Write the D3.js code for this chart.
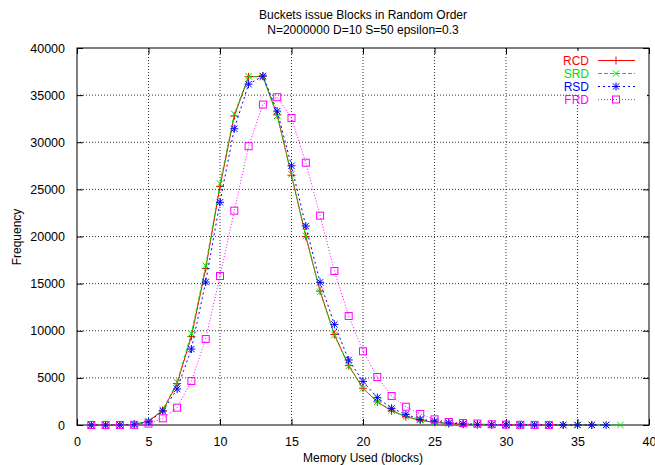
<!DOCTYPE html>
<html>
<head>
<meta charset="utf-8">
<script src="https://cdn.jsdelivr.net/npm/d3@7"></script>
<style>
  body { margin: 0; background: #fff; }
  text { font-family: "Liberation Sans", Arial, Helvetica, sans-serif; }
</style>
</head>
<body>
<svg width="655" height="465"></svg>
<script>
const seriesNames = ['RCD', 'SRD', 'RSD', 'FRD'];

const rcd = [0, 0, 10, 60, 400, 1550, 4400, 9400, 16600, 25300, 32800, 36950, 37000, 32900, 26500,
  20000, 14200, 9600, 6300, 3900, 2450, 1500, 880, 500, 280, 150, 80, 45, 25, 12, 6, 3, 2, 1, 1, 0];
const srd = [0, 0, 10, 70, 420, 1600, 4530, 9700, 16900, 25600, 33000, 37000, 36900, 32800, 26600,
  20050, 14140, 9550, 6260, 3890, 2470, 1520, 900, 520, 290, 160, 85, 45, 25, 13, 7, 4, 2, 1, 1, 1, 0, 0];
const rsd = [0, 0, 8, 50, 330, 1480, 3820, 8060, 15170, 23630, 31430, 36160, 37030, 33300, 27500,
  21110, 15140, 10680, 6900, 4630, 2900, 1770, 1130, 600, 420, 220, 120, 65, 35, 18, 9, 5, 3, 2, 1, 0, 0];
const frd = [0, 0, 3, 20, 150, 710, 1840, 4670, 9120, 15810, 22740, 29580, 34000, 34780, 32570,
  27830, 22210, 16340, 11570, 7820, 5090, 3080, 1940, 1170, 600, 320, 210, 150, 80, 40, 20, 10, 5];

const xTicks = [0, 5, 10, 15, 20, 25, 30, 35, 40];
const yTicks = [0, 5000, 10000, 15000, 20000, 25000, 30000, 35000, 40000];

const margin = {top: 48, right: 6, bottom: 40, left: 77};
const width = 655 - margin.left - margin.right;
const height = 465 - margin.top - margin.bottom;

const svg = d3.select('svg');
const chart = svg.append('g')
  .attr('transform', `translate(${margin.left}, ${margin.top})`);

const xScale = d3.scaleLinear().domain([0, 40]).range([0, width]);
const yScale = d3.scaleLinear().domain([0, 40000]).range([height, 0]);

// grid
chart.append('g')
  .selectAll('line.gx')
  .data(xTicks.slice(1, -1))
  .enter().append('line')
  .attr('x1', d => xScale(d)).attr('x2', d => xScale(d))
  .attr('y1', 0).attr('y2', height)
  .attr('stroke', '#333').attr('stroke-width', 1)
  .attr('stroke-dasharray', '1,2');

chart.append('g')
  .selectAll('line.gy')
  .data(yTicks.slice(1, -1))
  .enter().append('line')
  .attr('x1', 0).attr('x2', width)
  .attr('y1', d => yScale(d)).attr('y2', d => yScale(d))
  .attr('stroke', '#333').attr('stroke-width', 1)
  .attr('stroke-dasharray', '1,2');

// key area blanks the grid behind it
svg.append('rect')
  .attr('x', 579).attr('y', 51)
  .attr('width', 68).attr('height', 57)
  .attr('fill', '#fff');
svg.append('rect')
  .attr('x', 560).attr('y', 51)
  .attr('width', 20).attr('height', 43)
  .attr('fill', '#fff');

// axes (ticks inside, mirrored)
function styleAxis(g) {
  g.select('.domain').remove();
  g.selectAll('text')
    .attr('font-size', '12.5px')
    .attr('fill', '#000')
    .attr('font-family', '"Liberation Sans", Arial, Helvetica, sans-serif');
  g.selectAll('line').attr('stroke', '#000');
}

chart.append('g')
  .attr('transform', `translate(0, ${height})`)
  .call(d3.axisBottom(xScale).tickValues(xTicks).tickSize(-6).tickPadding(12).tickFormat(d3.format('d')))
  .call(styleAxis);

chart.append('g')
  .call(d3.axisTop(xScale).tickValues(xTicks).tickSize(-6).tickFormat(''))
  .call(styleAxis);

chart.append('g')
  .call(d3.axisLeft(yScale).tickValues(yTicks).tickSize(-6).tickPadding(12).tickFormat(d3.format('d')))
  .call(styleAxis);

chart.append('g')
  .attr('transform', `translate(${width}, 0)`)
  .call(d3.axisRight(yScale).tickValues(yTicks).tickSize(-6).tickFormat(''))
  .call(styleAxis);

chart.append('rect')
  .attr('width', width).attr('height', height)
  .attr('fill', 'none').attr('stroke', '#000').attr('stroke-width', 1);

// series
const series = [
  {name: seriesNames[0], values: rcd, color: '#ff0000', dash: null, mark: 'plus'},
  {name: seriesNames[1], values: srd, color: '#00e000', dash: '4,2', mark: 'cross'},
  {name: seriesNames[2], values: rsd, color: '#0000ff', dash: '2,3', mark: 'star'},
  {name: seriesNames[3], values: frd, color: '#ff00ff', dash: '1,2', mark: 'square'}
];

const line = d3.line()
  .x((d, i) => xScale(i + 1))
  .y(d => yScale(d));

function drawMark(g, x, y, type, color) {
  const s = 4;
  const add = (x1, y1, x2, y2) => g.append('line')
    .attr('x1', x1).attr('y1', y1).attr('x2', x2).attr('y2', y2)
    .attr('stroke', color).attr('stroke-width', 1);
  if (type === 'plus' || type === 'star') {
    add(x - s, y, x + s, y);
    add(x, y - s, x, y + s);
  }
  if (type === 'cross' || type === 'star') {
    add(x - s * 0.8, y - s * 0.8, x + s * 0.8, y + s * 0.8);
    add(x - s * 0.8, y + s * 0.8, x + s * 0.8, y - s * 0.8);
  }
  if (type === 'square') {
    g.append('rect')
      .attr('x', x - 3.5).attr('y', y - 3.5)
      .attr('width', 7).attr('height', 7)
      .attr('fill', 'none').attr('stroke', color).attr('stroke-width', 1);
  }
}

series.forEach(s => {
  const g = chart.append('g');
  g.append('path')
    .datum(s.values)
    .attr('d', line)
    .attr('fill', 'none')
    .attr('stroke', s.color)
    .attr('stroke-width', 1)
    .attr('stroke-dasharray', s.dash);
  s.values.forEach((v, i) => drawMark(g, xScale(i + 1), yScale(v), s.mark, s.color));
});

// legend
const legend = svg.append('g');
series.forEach((s, i) => {
  const y = 60.5 + i * 13;
  legend.append('text')
    .attr('x', 589).attr('y', y + 4.5)
    .attr('text-anchor', 'end')
    .attr('font-size', '12px')
    .attr('fill', s.color)
    .text(s.name);
  legend.append('line')
    .attr('x1', 598).attr('x2', 635)
    .attr('y1', y).attr('y2', y)
    .attr('stroke', s.color).attr('stroke-width', 1)
    .attr('stroke-dasharray', s.dash);
  drawMark(legend, 616, y, s.mark, s.color);
});

// labels
svg.append('text')
  .attr('x', 363).attr('y', 19)
  .attr('text-anchor', 'middle')
  .attr('font-size', '12px')
  .text('Buckets issue Blocks in Random Order');

svg.append('text')
  .attr('x', 363).attr('y', 34)
  .attr('text-anchor', 'middle')
  .attr('font-size', '12px')
  .text('N=2000000 D=10 S=50 epsilon=0.3');

svg.append('text')
  .attr('x', 363).attr('y', 462)
  .attr('text-anchor', 'middle')
  .attr('font-size', '12px')
  .text('Memory Used (blocks)');

svg.append('text')
  .attr('transform', 'translate(21, 237) rotate(-90)')
  .attr('text-anchor', 'middle')
  .attr('font-size', '12px')
  .text('Frequency');
</script>
</body>
</html>
